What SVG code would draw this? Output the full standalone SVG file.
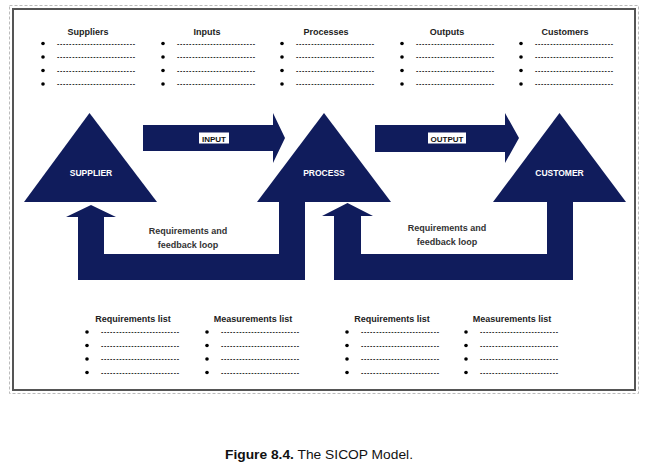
<svg xmlns="http://www.w3.org/2000/svg" width="646" height="469" viewBox="0 0 646 469">
<style>
.hd{font-family:"Liberation Sans",Arial,sans-serif;font-weight:bold;font-size:9px;fill:#222;text-anchor:middle}
.dash{font-family:"Liberation Sans",Arial,sans-serif;font-size:7px;font-weight:bold;fill:#222}
.wt{font-family:"Liberation Sans",Arial,sans-serif;font-weight:bold;font-size:8.5px;fill:#fff;text-anchor:middle}
.lb{font-family:"Liberation Sans",Arial,sans-serif;font-weight:bold;font-size:8px;fill:#111;text-anchor:middle}
.fb{font-family:"Liberation Sans",Arial,sans-serif;font-weight:bold;font-size:9px;fill:#333;text-anchor:middle}
.navy{fill:#101c5c}
.cap{font-family:"Liberation Sans",Arial,sans-serif;font-size:12px;fill:#111}
</style>
<defs>
<g id="list">
<circle cx="0" cy="0" r="1.8" fill="#000"/>
<circle cx="0" cy="13.5" r="1.8" fill="#000"/>
<circle cx="0" cy="27" r="1.8" fill="#000"/>
<circle cx="0" cy="40.5" r="1.8" fill="#000"/>
<text class="dash" x="14" y="2" textLength="78" lengthAdjust="spacing">--------------------------</text>
<text class="dash" x="14" y="15.5" textLength="78" lengthAdjust="spacing">--------------------------</text>
<text class="dash" x="14" y="29" textLength="78" lengthAdjust="spacing">--------------------------</text>
<text class="dash" x="14" y="42.5" textLength="78" lengthAdjust="spacing">--------------------------</text>
</g>
</defs>
<rect x="0" y="0" width="646" height="469" fill="#fff"/>
<rect x="9.5" y="5.5" width="629" height="388" fill="none" stroke="#bbb" stroke-width="1" stroke-dasharray="3,2"/>
<rect x="13" y="9" width="622" height="381" fill="#fff" stroke="#555" stroke-width="2"/>

<g id="top-lists">
<g id="suppliers"><text class="hd" x="88" y="35">Suppliers</text><use href="#list" x="43" y="43.5"/></g>
<g id="inputs"><text class="hd" x="207" y="35">Inputs</text><use href="#list" x="163" y="43.5"/></g>
<g id="processes"><text class="hd" x="326" y="35">Processes</text><use href="#list" x="282" y="43.5"/></g>
<g id="outputs"><text class="hd" x="447" y="35">Outputs</text><use href="#list" x="402" y="43.5"/></g>
<g id="customers"><text class="hd" x="565" y="35">Customers</text><use href="#list" x="521" y="43.5"/></g>
</g>

<g id="connectors">
<g id="input-arrow">
<polygon class="navy" points="143,125 273,125 273,113 285,138 273,163 273,151 143,151"/>
<rect x="199" y="132.5" width="30" height="11" fill="#fff"/>
<text class="lb" x="214" y="141.5">INPUT</text>
</g>
<g id="output-arrow">
<polygon class="navy" points="375,125 505,125 505,113 519,138 505,163 505,152 375,152"/>
<rect x="428" y="132.5" width="38" height="11" fill="#fff"/>
<text class="lb" x="447" y="141.5">OUTPUT</text>
</g>
<g id="feedback-1">
<polygon class="navy" points="279,202 305,202 305,280 78,280 78,217 66,217 91,205 116,217 104,217 104,254 279,254"/>
<text class="fb" x="188" y="234">Requirements and</text>
<text class="fb" x="188" y="248">feedback loop</text>
</g>
<g id="feedback-2">
<polygon class="navy" points="547,202 573,202 573,280 334,280 334,216 322,216 347.5,203 373,216 361,216 361,254 547,254"/>
<text class="fb" x="447" y="231">Requirements and</text>
<text class="fb" x="447" y="245">feedback loop</text>
</g>
</g>

<g id="supplier">
<polygon class="navy" points="89.5,113 24,202 157,202"/>
<text class="wt" x="91" y="176">SUPPLIER</text>
</g>
<g id="process">
<polygon class="navy" points="324,113 257,202 391,202"/>
<text class="wt" x="324" y="176">PROCESS</text>
</g>
<g id="customer">
<polygon class="navy" points="559.5,113 493,202 626,202"/>
<text class="wt" x="559.5" y="176">CUSTOMER</text>
</g>

<g id="bottom-lists">
<g id="req-1"><text class="hd" x="133" y="322">Requirements list</text><use href="#list" x="87" y="332"/></g>
<g id="meas-1"><text class="hd" x="253" y="322">Measurements list</text><use href="#list" x="207" y="332"/></g>
<g id="req-2"><text class="hd" x="392" y="322">Requirements list</text><use href="#list" x="347" y="332"/></g>
<g id="meas-2"><text class="hd" x="512" y="322">Measurements list</text><use href="#list" x="466" y="332"/></g>
</g>

<text class="cap" x="225" y="459" textLength="188" lengthAdjust="spacingAndGlyphs"><tspan font-weight="bold">Figure 8.4.</tspan> The SICOP Model.</text>
</svg>
